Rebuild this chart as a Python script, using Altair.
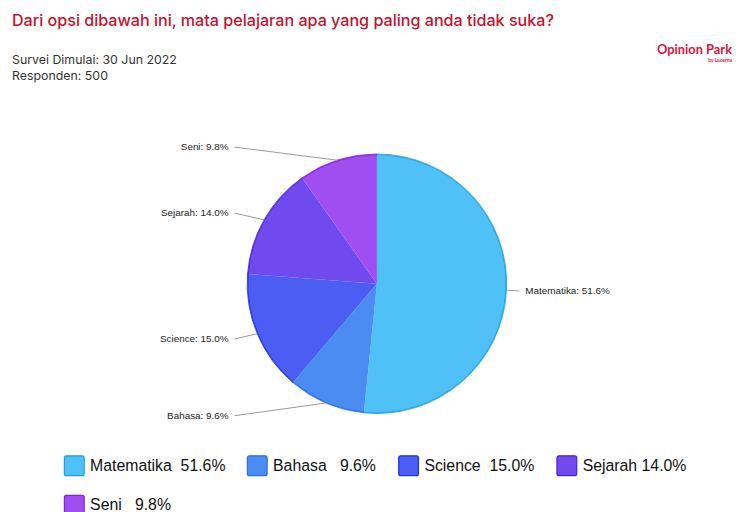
import json
import altair as alt
import pandas as pd

# ---- data ----
categories = ["Matematika", "Bahasa", "Science", "Sejarah", "Seni"]
values = [51.6, 9.6, 15.0, 14.0, 9.8]
legend_texts = [
    "Matematika\u00a0\u00a051.6%",
    "Bahasa\u00a0\u00a0\u00a09.6%",
    "Science\u00a0\u00a015.0%",
    "Sejarah\u00a014.0%",
    "Seni\u00a0\u00a0\u00a09.8%",
]
fill_colors = ["#4FC1F6", "#4A8CF1", "#4B5DF3", "#7049EF", "#A04DF1"]
stroke_colors = ["#1F9FE2", "#2E6EE2", "#2233D9", "#4B22D6", "#7D22DA"]

title_text = "Dari opsi dibawah ini, mata pelajaran apa yang paling anda tidak suka?"
subtitle_lines = ["Survei Dimulai: 30 Jun 2022", "Responden: 500"]

df = pd.DataFrame({"cat": categories, "value": values, "idx": list(range(len(categories)))})

# ---- geometry ----
W, H = 725, 412
CX, CY = 373, 184
R = 131
RL = 145
LX = 150
CXO = 144

xs = alt.Scale(domain=[-CX, W - CX], nice=False, zero=False)
ys = alt.Scale(domain=[-CY, H - CY], nice=False, zero=False, reverse=True)

label_map = json.dumps(dict(zip(categories, legend_texts)), ensure_ascii=False)

rounded = ("M-0.8,-1 L0.8,-1 Q1,-1 1,-0.8 L1,0.8 Q1,1 0.8,1 L-0.8,1 "
           "Q-1,1 -1,0.8 L-1,-0.8 Q-1,-1 -0.8,-1 Z")

legend = alt.Legend(
    title=None, orient="none", legendX=56, legendY=357,
    direction="horizontal", columns=4, gridAlign="none",
    symbolType=rounded, symbolSize=400, symbolStrokeWidth=1.2,
    labelFont="Liberation Sans, Arial", labelFontSize=16,
    labelColor="#111111", labelLimit=0, labelOffset=5,
    labelExpr=f"{label_map}[datum.label]",
    columnPadding=19, rowPadding=14,
)

fill_scale = alt.Scale(domain=categories, range=fill_colors)
stroke_scale = alt.Scale(domain=categories, range=stroke_colors)

base = alt.Chart(df).transform_joinaggregate(
    total="sum(value)"
).transform_window(
    cum="sum(value)", sort=[alt.SortField("idx")], frame=[None, 0]
).transform_calculate(
    a="2*PI*(datum.cum - datum.value/2)/datum.total"
).transform_calculate(
    px=f"{R}*sin(datum.a)",
    py=f"-{R}*cos(datum.a)",
    side="sin(datum.a) >= 0 ? 1 : -1",
    ly=f"-{RL}*cos(datum.a)",
).transform_calculate(
    cx2=f"datum.side*{CXO}",
    lx=f"datum.side*{LX}",
    lbl="datum.cat + ': ' + format(datum.value, '.1f') + '%'",
)

pie = alt.Chart(df).mark_arc(outerRadius=R, strokeWidth=0).encode(
    theta=alt.Theta("value:Q", stack=True),
    order=alt.Order("idx:Q"),
    fill=alt.Fill("cat:N", scale=fill_scale, legend=legend),
    stroke=alt.Stroke("cat:N", scale=stroke_scale, legend=legend),
    x=alt.value(CX),
    y=alt.value(CY),
)

ring = alt.Chart(df).mark_arc(
    innerRadius=R - 0.6, outerRadius=R + 0.2, filled=False, strokeWidth=0.8
).encode(
    theta=alt.Theta("value:Q", stack=True),
    order=alt.Order("idx:Q"),
    stroke=alt.Stroke("cat:N", scale=stroke_scale, legend=legend),
    x=alt.value(CX),
    y=alt.value(CY),
)

conn = base.mark_rule(color="#999999", strokeWidth=1).encode(
    x=alt.X("px:Q", scale=xs, axis=None),
    y=alt.Y("py:Q", scale=ys, axis=None),
    x2="cx2:Q",
    y2="ly:Q",
)

txt_font = dict(font="Liberation Sans, Arial", fontSize=10, color="#222222", baseline="middle")
left_lbl = base.transform_filter("datum.side < 0").mark_text(align="right", **txt_font).encode(
    x=alt.X("lx:Q", scale=xs, axis=None),
    y=alt.Y("ly:Q", scale=ys, axis=None),
    text="lbl:N",
)
right_lbl = base.transform_filter("datum.side > 0").mark_text(align="left", **txt_font).encode(
    x=alt.X("lx:Q", scale=xs, axis=None),
    y=alt.Y("ly:Q", scale=ys, axis=None),
    text="lbl:N",
)

logo_df = pd.DataFrame({"t": ["Opinion Park"], "s": ["by Lucerna"]})
logo = alt.Chart(logo_df).mark_text(
    align="right", baseline="middle", font="Lato", fontWeight="bold",
    fontSize=13, color="#E0133C"
).encode(text="t:N", x=alt.value(W + 7), y=alt.value(-52))
logo2 = alt.Chart(logo_df).mark_text(
    align="right", baseline="middle", font="Lato", fontWeight="bold",
    fontSize=5, color="#E0133C"
).encode(text="s:N", x=alt.value(W + 7), y=alt.value(-42))

chart = alt.layer(pie, ring, conn, left_lbl, right_lbl, logo, logo2).resolve_scale(
    x="shared", y="shared"
).properties(
    width=W, height=H,
    autosize=alt.AutoSizeParams(type="none"),
    padding={"top": 92, "left": 0, "right": 8, "bottom": 0},
    title=alt.TitleParams(
        text=title_text, subtitle=subtitle_lines, anchor="start", frame="group",
        font="Inter", fontSize=16.3, fontWeight=500, color="#C4122F",
        subtitleFont="Inter", subtitleFontSize=12.5, subtitleColor="#333333",
        subtitlePadding=25, subtitleLineHeight=17, offset=-39, dx=4,
    ),
).configure_view(stroke=None)

chart.save("out.html", embed_options={"renderer": "svg", "actions": False})
